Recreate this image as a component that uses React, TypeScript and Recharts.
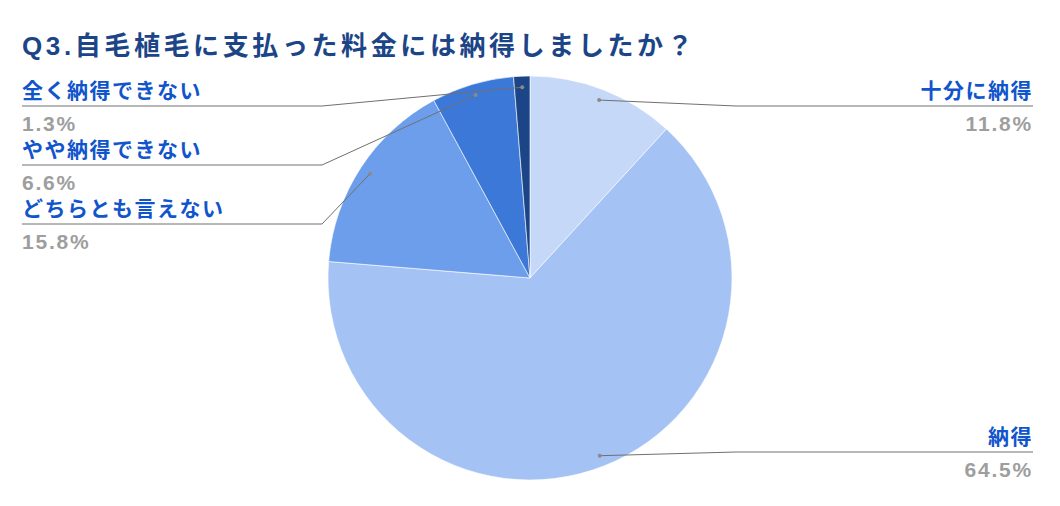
import { Pie, PieChart, Cell } from 'recharts'

const categories = ['十分に納得', '納得', 'どちらとも言えない', 'やや納得できない', '全く納得できない']
const shares = [11.8, 64.5, 15.8, 6.6, 1.3]
const sliceColors = ['#c6d8f7', '#a4c2f4', '#6d9eeb', '#3c78d8', '#1c4587']

const data = categories.map((name, i) => ({ name, value: shares[i] }))

// where each label sits (Google Sheets style callouts)
const slots = [
  { side: 'right', lineY: 106 },
  { side: 'right', lineY: 452 },
  { side: 'left', lineY: 224 },
  { side: 'left', lineY: 165 },
  { side: 'left', lineY: 106 },
]

const FONT = 'Arial, "Liberation Sans", "Noto Sans CJK JP", sans-serif'
const RAD = Math.PI / 180

function renderLabel(props: any) {
  const { cx, cy, midAngle, outerRadius, index } = props
  const slot = slots[index]
  const r = outerRadius * 0.945
  const dx = cx + r * Math.cos(-midAngle * RAD)
  const dy = cy + r * Math.sin(-midAngle * RAD)
  const right = slot.side === 'right'
  const elbowX = right ? 736 : 322
  const endX = right ? 1033 : 22
  const anchor = right ? 'end' : 'start'
  return (
    <g key={`lbl-${index}`}>
      <polyline
        points={`${dx},${dy} ${elbowX},${slot.lineY} ${endX},${slot.lineY}`}
        fill="none"
        stroke="#707070"
        strokeWidth={1}
      />
      <circle cx={dx} cy={dy} r={2} fill="#8a8a8a" />
      <text
        x={endX}
        y={slot.lineY - 8}
        textAnchor={anchor}
        fill="#1155cc"
        fontSize={21}
        fontWeight="bold"
        letterSpacing={1.5}
        fontFamily={FONT}
      >
        {categories[index]}
      </text>
      <text
        x={endX}
        y={slot.lineY + 25}
        textAnchor={anchor}
        fill="#9e9e9e"
        fontSize={21}
        fontWeight="bold"
        letterSpacing={1.8}
        fontFamily={FONT}
      >
        {shares[index].toFixed(1)}%
      </text>
    </g>
  )
}

export default function App() {
  return (
    <div style={{ width: 1060, height: 506, background: '#fff' }}>
      <style>{'body{margin:0}'}</style>
      <PieChart width={1060} height={506} margin={{ top: 0, right: 0, bottom: 0, left: 0 }}>
        <text
          x={22}
          y={55}
          fill="#1c4587"
          fontSize={26}
          fontWeight="bold"
          letterSpacing={3.6}
          fontFamily={FONT}
        >
          Q3.自毛植毛に支払った料金には納得しましたか？
        </text>
        <Pie
          data={data}
          dataKey="value"
          nameKey="name"
          cx={530}
          cy={278}
          outerRadius={202}
          startAngle={90}
          endAngle={-270}
          stroke="#ffffff"
          strokeWidth={0.6}
          label={renderLabel}
          labelLine={false}
          isAnimationActive={false}
        >
          {data.map((d, i) => (
            <Cell key={d.name} fill={sliceColors[i]} />
          ))}
        </Pie>
      </PieChart>
    </div>
  )
}
